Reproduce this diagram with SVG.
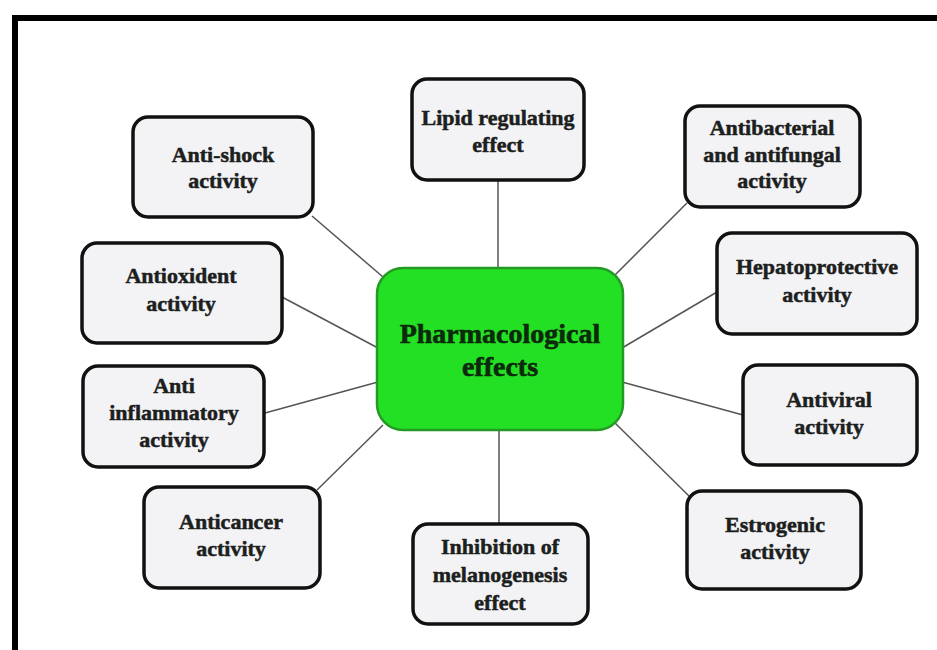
<svg xmlns="http://www.w3.org/2000/svg" width="937" height="650" viewBox="0 0 937 650">
  <style>
    .box { fill: #f3f3f5; stroke: #111; stroke-width: 3.5; }
    .hub { fill: #24e024; stroke: #239a23; stroke-width: 2.5; }
    .lbl { font-family: "Liberation Serif", "Times New Roman", serif; font-weight: bold; font-size: 22px; fill: #1c201d; stroke: #1c201d; stroke-width: 0.5; text-anchor: middle; }
    .hubtxt { font-family: "Liberation Serif", "Times New Roman", serif; font-weight: bold; font-size: 28px; fill: #0b2a0b; stroke: #0b2a0b; stroke-width: 0.6; text-anchor: middle; }
    .link { stroke: #555; stroke-width: 1.5; fill: none; }
  </style>

  <rect width="937" height="650" fill="#fff"/>
  <!-- frame: left and top rules -->
  <path d="M15,650 V18 H937" fill="none" stroke="#000" stroke-width="6"/>

  <g id="connectors">
    <line class="link" x1="312" y1="216" x2="383" y2="277"/>
    <line class="link" x1="498" y1="180" x2="498" y2="268"/>
    <line class="link" x1="687" y1="203" x2="615" y2="275"/>
    <line class="link" x1="717" y1="292" x2="622" y2="348"/>
    <line class="link" x1="622" y1="382" x2="743" y2="415"/>
    <line class="link" x1="615" y1="423" x2="689" y2="496"/>
    <line class="link" x1="282" y1="297" x2="378" y2="348"/>
    <line class="link" x1="265" y1="413" x2="378" y2="382"/>
    <line class="link" x1="317" y1="490" x2="383" y2="425"/>
    <line class="link" x1="499" y1="430" x2="499" y2="524"/>
  </g>

  <g id="hub">
    <rect class="hub" x="377" y="268" width="246" height="162" rx="26"/>
    <text class="hubtxt" x="500" y="343">Pharmacological</text>
    <text class="hubtxt" x="500" y="376">effects</text>
  </g>

  <g id="anti-shock">
    <rect class="box" x="133" y="117" width="180" height="100" rx="15"/>
    <text class="lbl" x="223" y="162">Anti-shock</text>
    <text class="lbl" x="223" y="188">activity</text>
  </g>

  <g id="lipid">
    <rect class="box" x="412" y="79" width="172" height="101" rx="15"/>
    <text class="lbl" x="498" y="125">Lipid regulating</text>
    <text class="lbl" x="498" y="152">effect</text>
  </g>

  <g id="antibacterial">
    <rect class="box" x="685" y="106" width="175" height="101" rx="15"/>
    <text class="lbl" x="772" y="135">Antibacterial</text>
    <text class="lbl" x="772" y="162">and antifungal</text>
    <text class="lbl" x="772" y="188">activity</text>
  </g>

  <g id="hepatoprotective">
    <rect class="box" x="717" y="233" width="200" height="101" rx="15"/>
    <text class="lbl" x="817" y="274">Hepatoprotective</text>
    <text class="lbl" x="817" y="302">activity</text>
  </g>

  <g id="antioxident">
    <rect class="box" x="82" y="243" width="200" height="100" rx="15"/>
    <text class="lbl" x="181" y="283">Antioxident</text>
    <text class="lbl" x="181" y="311">activity</text>
  </g>

  <g id="anti-inflammatory">
    <rect class="box" x="83" y="366" width="181" height="101" rx="15"/>
    <text class="lbl" x="174" y="393">Anti</text>
    <text class="lbl" x="174" y="420">inflammatory</text>
    <text class="lbl" x="174" y="447">activity</text>
  </g>

  <g id="antiviral">
    <rect class="box" x="743" y="365" width="174" height="100" rx="15"/>
    <text class="lbl" x="829" y="407">Antiviral</text>
    <text class="lbl" x="829" y="434">activity</text>
  </g>

  <g id="anticancer">
    <rect class="box" x="144" y="487" width="176" height="101" rx="15"/>
    <text class="lbl" x="231" y="529">Anticancer</text>
    <text class="lbl" x="231" y="556">activity</text>
  </g>

  <g id="melanogenesis">
    <rect class="box" x="413" y="524" width="175" height="100" rx="15"/>
    <text class="lbl" x="500" y="554">Inhibition of</text>
    <text class="lbl" x="500" y="582">melanogenesis</text>
    <text class="lbl" x="500" y="610">effect</text>
  </g>

  <g id="estrogenic">
    <rect class="box" x="687" y="491" width="174" height="98" rx="15"/>
    <text class="lbl" x="775" y="532">Estrogenic</text>
    <text class="lbl" x="775" y="559">activity</text>
  </g>
</svg>
